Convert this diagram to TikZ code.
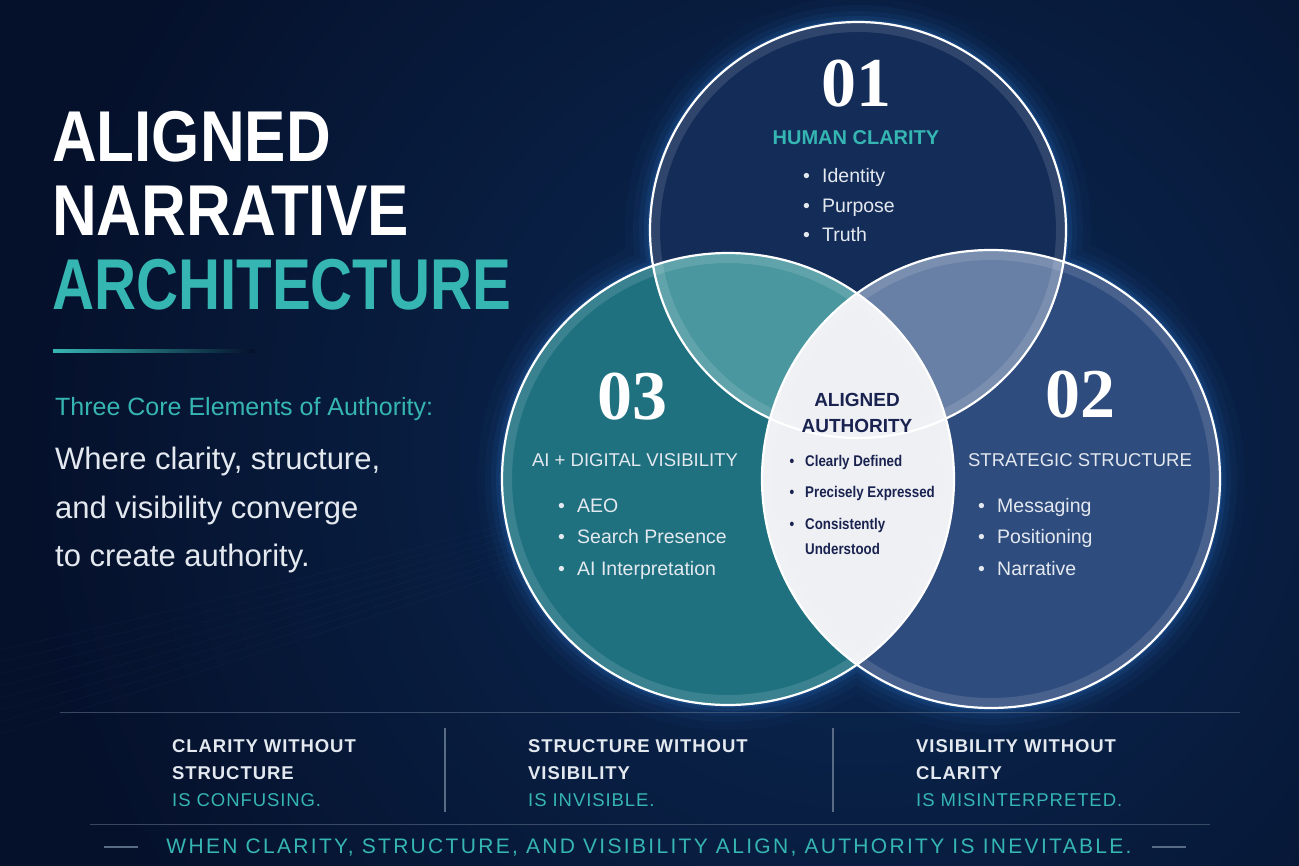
\documentclass[tikz,border=0pt]{standalone}
\usepackage{fontspec}
\setmainfont{Liberation Sans}
\newfontfamily\headfont[FakeStretch=0.86]{Liberation Sans}
\newfontfamily\numfont{Liberation Serif}
\newfontfamily\capfont[LetterSpace=5]{Liberation Sans}
\newfontfamily\tagfont[LetterSpace=11]{Liberation Sans}
\usetikzlibrary{positioning,calc}
\definecolor{bgc}{HTML}{05102A}
\definecolor{haloc}{HTML}{0B2A56}
\definecolor{glowc}{HTML}{2F7FD6}
\definecolor{tealc}{HTML}{36B6B3}
\definecolor{topc}{HTML}{132C58}
\definecolor{leftc}{HTML}{1F7180}
\definecolor{rightc}{HTML}{2F4C7E}
\definecolor{tlc}{HTML}{4A979F}
\definecolor{trc}{HTML}{6880A6}
\definecolor{lensc}{HTML}{EFF0F4}
\definecolor{navyc}{HTML}{1A2350}
\definecolor{itemc}{HTML}{E4E9F0}
\definecolor{linec}{HTML}{5A6B85}
\newcommand\rtop{208}
\newcommand\rleft{226}
\newcommand\rright{229}
\newcommand\bul[1]{\makebox[#1][l]{\textbullet}}

\begin{document}
\begin{tikzpicture}[x=1pt,y=-1pt,
    title/.style={anchor=base west,inner sep=0,font=\headfont\bfseries\fontsize{72}{72}\selectfont},
    body/.style={anchor=base west,inner sep=0,text=itemc,font=\fontsize{31}{31}\selectfont},
    num/.style={anchor=base,inner sep=0,text=white,font=\numfont\bfseries\fontsize{70}{70}\selectfont},
    head/.style={anchor=base,inner sep=0,text=itemc,font=\fontsize{18.5}{18.5}\selectfont},
    item/.style={anchor=base west,inner sep=0,text=itemc,font=\fontsize{19.5}{19.5}\selectfont},
    lenshead/.style={anchor=base,inner sep=0,text=navyc,font=\bfseries\fontsize{19}{19}\selectfont},
    lensitem/.style={anchor=base west,inner sep=0,text=navyc,font=\headfont\bfseries\fontsize{15.5}{15.5}\selectfont},
    col/.style={anchor=base west,inner sep=0,text=itemc,font=\capfont\bfseries\fontsize{18.5}{18.5}\selectfont},
    colteal/.style={col,text=tealc,font=\capfont\fontsize{18.5}{18.5}\selectfont},
    divider/.style={linec,line width=1.5},
    sepline/.style={linec,opacity=0.6,line width=1}]
  \useasboundingbox (0,0) rectangle (1299,866);
  % background
  \fill[bgc] (0,0) rectangle (1299,866);
  \begin{scope}
    \clip (0,0) rectangle (1299,866);
    \shade[inner color=haloc,outer color=bgc] (860,450) circle (860);
    \foreach \k in {0,...,7}
      \draw[glowc,opacity=0.07,line width=0.6] (0,{650+\k*12}) .. controls (180,{610+\k*10}) and (340,{570+\k*8}) .. (520,{520+\k*7});
  \end{scope}
  % circles
  \coordinate (ctop) at (858,230);
  \coordinate (cleft) at (728,479);
  \coordinate (cright) at (991,479);
  \foreach \w/\o in {50/0.04,34/0.06,22/0.08,12/0.12,5/0.2}
    \draw[glowc,line width=\w,opacity=\o] (ctop) circle (\rtop) (cleft) circle (\rleft) (cright) circle (\rright);
  \fill[topc] (ctop) circle (\rtop);
  \fill[leftc] (cleft) circle (\rleft);
  \fill[rightc] (cright) circle (\rright);
  \begin{scope}
    \clip (ctop) circle (\rtop);
    \fill[tlc] (cleft) circle (\rleft);
    \fill[trc] (cright) circle (\rright);
  \end{scope}
  \begin{scope}
    \clip (cleft) circle (\rleft);
    \fill[lensc] (cright) circle (\rright);
  \end{scope}
  \foreach \c/\r in {ctop/\rtop,cleft/\rleft,cright/\rright}
    \draw[white,opacity=0.12,line width=10] (\c) circle ({\r-5});
  \draw[white,line width=2.2] (ctop) circle (\rtop) (cleft) circle (\rleft) (cright) circle (\rright);

  % left column
  \node[title,text=white] (t1) at (52,162) {ALIGNED};
  \node[title,text=white] (t2) at (52,236) {NARRATIVE};
  \node[title,text=tealc] (t3) at (52,310) {\scalebox{0.94}[1]{ARCHITECTURE}};
  \shade[left color=tealc,right color=bgc] (53,350) rectangle (255,352.5);
  \node[body,text=tealc,font=\fontsize{25}{25}\selectfont] (sub) at (55,416) {Three Core Elements of Authority:};
  \foreach \t/\y [count=\i] in {{Where clarity, structure,}/470,{and visibility converge}/518,{to create authority.}/566}
    \node[body] (b\i) at (55,\y) {\t};

  % 01 human clarity
  \node[num] (n1) at (856,107) {01};
  \node[head,text=tealc,font=\bfseries\fontsize{20}{20}\selectfont] (h1) at (856,145) {HUMAN CLARITY};
  \foreach \t [count=\i] in {Identity,Purpose,Truth}
    \node[item] (hc\i) at (803,{183+29.5*(\i-1)}) {\bul{19pt}\t};

  % 03 ai + digital visibility
  \node[num] (n3) at (632,420) {03};
  \node[head] (h3) at (635,467) {AI + DIGITAL VISIBILITY};
  \foreach \t [count=\i] in {AEO,Search Presence,AI Interpretation}
    \node[item] (ai\i) at (558,{512+31.5*(\i-1)}) {\bul{19pt}\t};

  % 02 strategic structure
  \node[num] (n2) at (1080,418) {02};
  \node[head] (h2) at (1080,467) {STRATEGIC STRUCTURE};
  \foreach \t [count=\i] in {Messaging,Positioning,Narrative}
    \node[item] (ss\i) at (978,{512+31.5*(\i-1)}) {\bul{19pt}\t};

  % centre lens
  \node[lenshead] (lh1) at (857,407) {ALIGNED};
  \node[lenshead] (lh2) at (857,433) {AUTHORITY};
  \foreach \t/\y [count=\i] in {Clearly Defined/467,Precisely Expressed/497,Consistently/529}
    \node[lensitem] (li\i) at (789.5,\y) {\bul{15.5pt}\t};
  \node[lensitem] (li4) at (805,554) {Understood};

  % bottom statements
  \draw[sepline] (60,712) -- (1240,712);
  \foreach \x/\a/\b/\c [count=\i] in {172/CLARITY WITHOUT/STRUCTURE/IS CONFUSING.,528/STRUCTURE WITHOUT/VISIBILITY/IS INVISIBLE.,916/VISIBILITY WITHOUT/CLARITY/IS MISINTERPRETED.}{
    \node[col] (k\i-a) at (\x,752) {\a};
    \node[col] (k\i-b) at (\x,779) {\b};
    \node[colteal] (k\i-c) at (\x,806) {\c};
  }
  \draw[divider] (445,728) -- (445,812);
  \draw[divider] (833,728) -- (833,812);
  \draw[sepline] (90,824) -- (1210,824);
  \node[anchor=base,inner sep=0,text=tealc,font=\tagfont\fontsize{21}{21}\selectfont] (tag) at (649,853) {WHEN CLARITY, STRUCTURE, AND VISIBILITY ALIGN, AUTHORITY IS INEVITABLE.};
  \draw[linec,line width=1.5] ([xshift=-28pt]tag.west) -- ++(-34,0);
  \draw[linec,line width=1.5] ([xshift=20pt]tag.east) -- ++(34,0);
\end{tikzpicture}
\end{document}
